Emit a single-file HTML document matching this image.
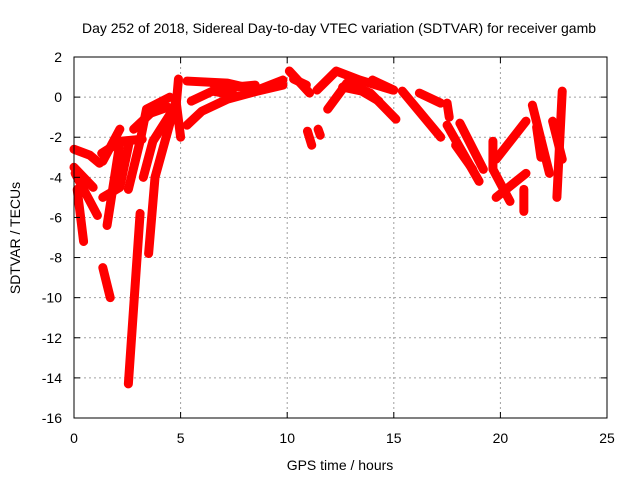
<!DOCTYPE html>
<html><head><meta charset="utf-8"><style>
body{margin:0;background:#fff}
svg{display:block;font-family:"Liberation Sans",sans-serif}
</style></head><body>
<svg width="640" height="480" viewBox="0 0 640 480">
<rect width="640" height="480" fill="#fff"/>
<g id="grid"></g>
<g id="series"></g>
<rect x="74" y="57" width="533" height="361" fill="none" stroke="#000" stroke-width="1"/>
<g id="axes" font-size="14" fill="#000"></g>
<text x="339" y="33" font-size="14" text-anchor="middle">Day 252 of 2018, Sidereal Day-to-day VTEC variation (SDTVAR) for receiver gamb</text>
<text x="340" y="470" font-size="14" text-anchor="middle">GPS time / hours</text>
<text x="20" y="238" font-size="14" text-anchor="middle" transform="rotate(-90 20 238)">SDTVAR / TECUs</text>
</svg>
<script>
const xTicks=[0,5,10,15,20,25];
const yTicks=[2,0,-2,-4,-6,-8,-10,-12,-14,-16];
const tracks=[
[[0,-2.6],[0.75,-2.9],[1.2,-3.3]],
[[0,-3.5],[0.9,-4.5]],
[[0.05,-3.8],[1.1,-5.9]],
[[0.15,-4.6],[0.45,-7.2]],
[[1.35,-8.5],[1.7,-10.0]],
[[1.35,-3.2],[2.15,-1.6]],
[[1.3,-2.8],[2.2,-2.2],[3.2,-2.1]],
[[1.55,-6.4],[2.15,-2.3]],
[[1.35,-5.0],[2.15,-4.5],[2.6,-2.2]],
[[2.55,-14.3],[3.1,-5.8]],
[[2.55,-4.6],[3.1,-2.2],[3.4,-0.6],[4.5,0.0]],
[[2.8,-1.6],[3.6,-0.8],[4.4,-0.5]],
[[3.5,-7.8],[3.8,-4.0],[4.5,-1.3],[4.8,-0.1]],
[[3.25,-4.0],[3.7,-2.2],[4.6,-0.7]],
[[5.0,-2.0],[4.8,-0.3],[4.9,0.9]],
[[5.3,-1.4],[6.0,-0.7],[7.2,-0.1],[8.6,0.3],[9.8,0.6]],
[[5.5,-0.2],[6.5,0.3],[7.5,0.1]],
[[5.3,0.8],[7.2,0.7],[8.6,0.35],[9.8,0.85]],
[[6.5,0.7],[7.5,0.5],[8.5,0.6]],
[[10.1,1.3],[11.05,0.2]],
[[10.3,0.9],[10.9,0.6]],
[[10.95,-1.7],[11.15,-2.4]],
[[11.45,-1.6],[11.55,-1.9]],
[[11.4,0.35],[12.3,1.3],[13.4,0.85],[14.95,0.35]],
[[11.9,-0.6],[12.8,0.7],[13.9,0.2],[15.1,-1.1]],
[[12.6,0.5],[13.5,0.3],[14.3,-0.2]],
[[14.0,0.85],[15.0,0.35]],
[[15.4,0.3],[17.2,-2.0]],
[[16.2,0.2],[17.2,-0.3]],
[[17.5,-0.3],[17.6,-1.0]],
[[17.5,-1.4],[19.0,-4.2]],
[[18.1,-1.3],[19.2,-3.6]],
[[17.9,-2.4],[18.7,-3.6]],
[[19.65,-2.2],[19.65,-3.6],[20.45,-5.2]],
[[19.8,-3.1],[21.2,-1.2]],
[[21.2,-3.8],[19.8,-5.0]],
[[21.1,-4.6],[21.1,-5.7]],
[[21.5,-0.4],[22.3,-3.8]],
[[21.7,-1.5],[21.9,-3.0]],
[[22.9,0.3],[22.65,-5.0]],
[[22.45,-1.2],[22.9,-3.1]]
];
const X=v=>74+v*(533/25);
const Y=v=>418-(v+16)*(361/18);
const NS='http://www.w3.org/2000/svg';
const grid=document.getElementById('grid'),axes=document.getElementById('axes'),ser=document.getElementById('series');
function mk(tag,attrs,parent){const e=document.createElementNS(NS,tag);for(const k in attrs)e.setAttribute(k,attrs[k]);parent.appendChild(e);return e;}
xTicks.forEach(t=>{
 const x=X(t);
 if(t>0&&t<25){const l=mk('line',{x1:x,x2:x,y1:57,y2:418,stroke:'#a0a0a0','stroke-dasharray':'2,3'},grid);
 
 }
 mk('line',{x1:x,x2:x,y1:418,y2:412,stroke:'#000'},axes);
 mk('line',{x1:x,x2:x,y1:57,y2:63,stroke:'#000'},axes);
 const tx=mk('text',{x:x,y:443,'text-anchor':'middle'},axes);tx.textContent=t;
 
 
});
yTicks.forEach(t=>{
 const y=Y(t);
 if(t>-16&&t<2){const l=mk('line',{x1:74,x2:607,y1:y,y2:y,stroke:'#a0a0a0','stroke-dasharray':'2,3'},grid);
 
 }
 mk('line',{x1:74,x2:80,y1:y,y2:y,stroke:'#000'},axes);
 mk('line',{x1:601,x2:607,y1:y,y2:y,stroke:'#000'},axes);
 const tx=mk('text',{x:62,y:y+5,'text-anchor':'end'},axes);tx.textContent=t;
 
 
});
tracks.forEach(tr=>{
 const p=mk('polyline',{points:tr.map(d=>X(d[0])+','+Y(d[1])).join(' '),fill:'none',stroke:'#ff0000','stroke-width':9,'stroke-linecap':'round','stroke-linejoin':'round'},ser);
 
 
 tr.forEach(d=>{
  const m=mk('path',{d:`M${X(d[0])-4},${Y(d[1])}h8M${X(d[0])},${Y(d[1])-4}v8`,stroke:'#ff0000','stroke-width':1.5},ser);
  
  
 });
});
</script>
</body></html>
